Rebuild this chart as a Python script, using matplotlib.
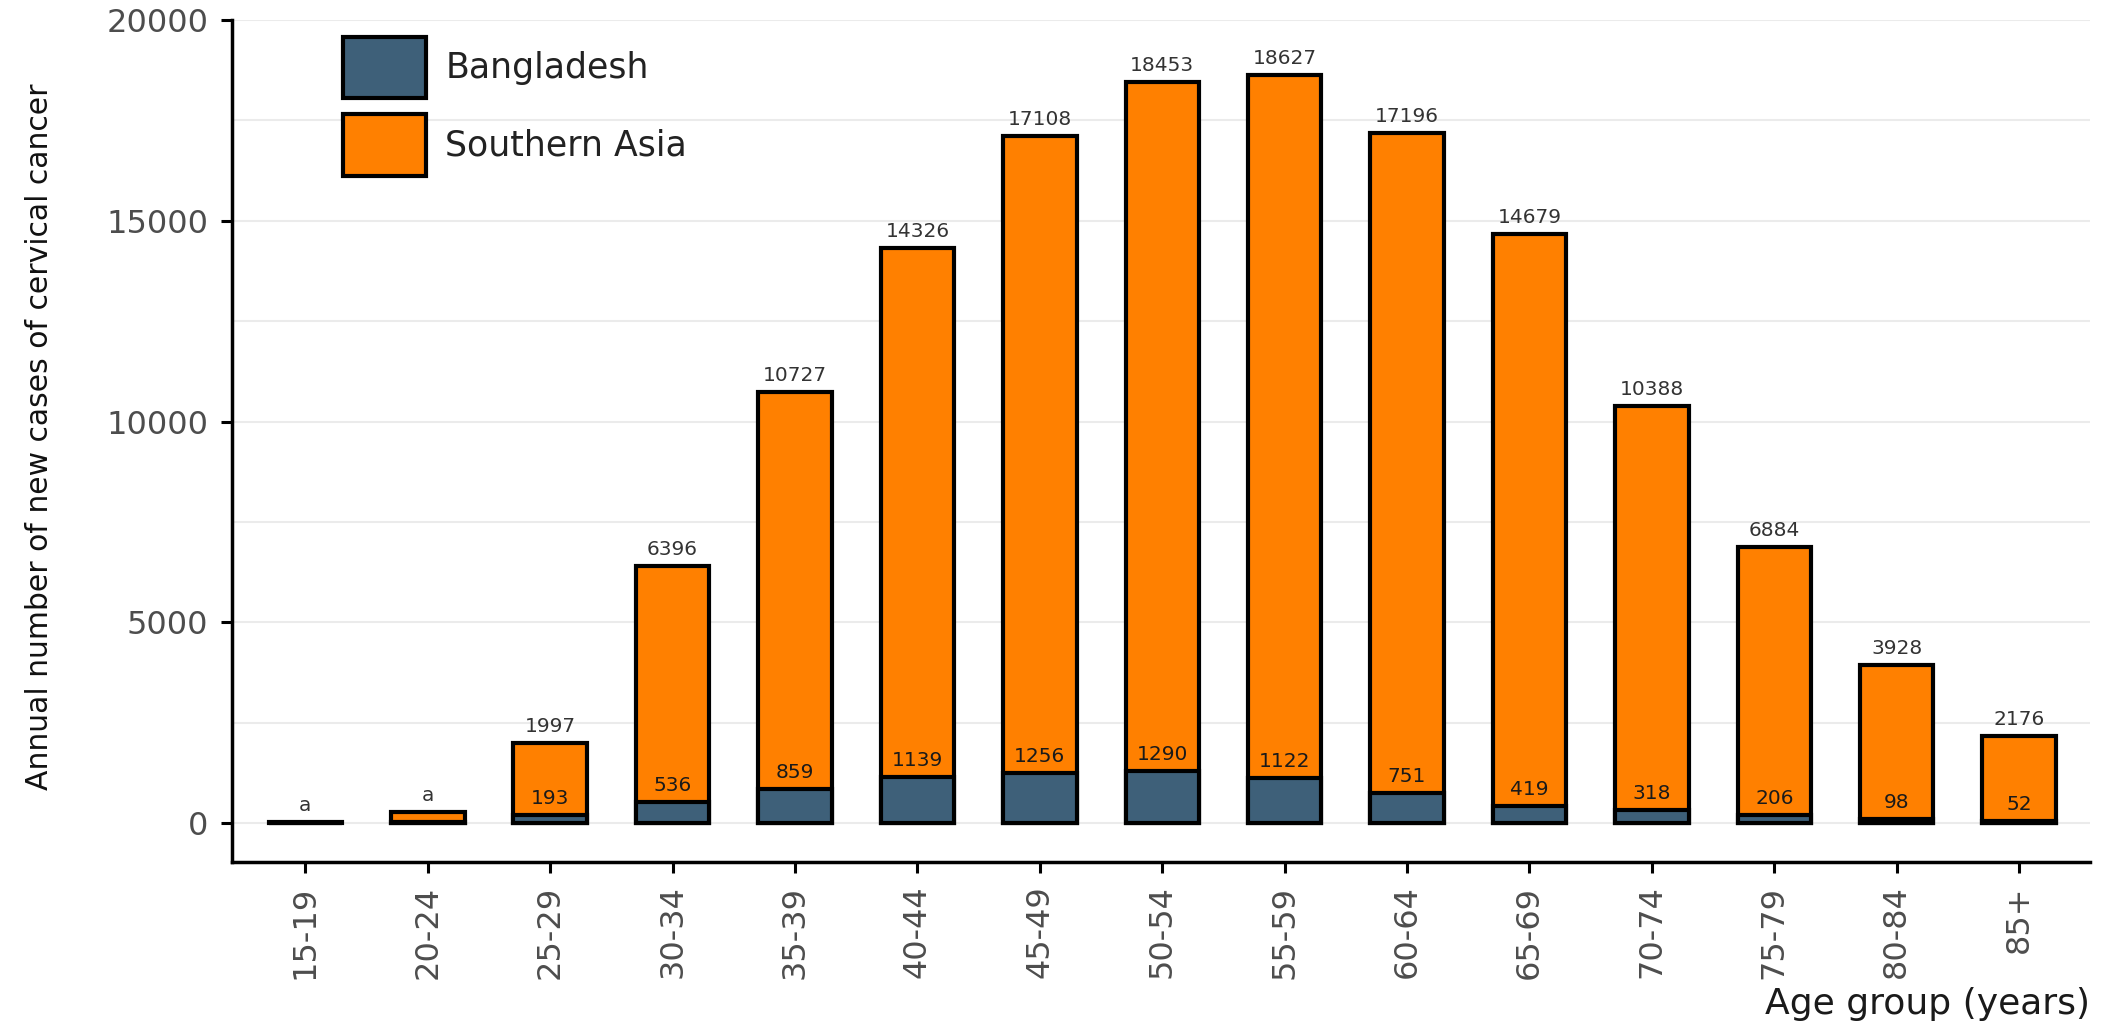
import matplotlib
matplotlib.use("Agg")
import matplotlib.pyplot as plt
import numpy as np

# annual new cervical cancer cases by age group
age_groups = ['15-19', '20-24', '25-29', '30-34', '35-39', '40-44', '45-49', '50-54',
              '55-59', '60-64', '65-69', '70-74', '75-79', '80-84', '85+']
southern_asia = [30, 270, 1997, 6396, 10727, 14326, 17108, 18453,
                 18627, 17196, 14679, 10388, 6884, 3928, 2176]
bangladesh = [5, 20, 193, 536, 859, 1139, 1256, 1290,
              1122, 751, 419, 318, 206, 98, 52]
# groups whose counts are not printed, marked "a" instead
suppressed = ['15-19', '20-24']

orange = '#ff8000'
slate = '#3e6079'
tick_grey = '#4d4d4d'

fig = plt.figure(figsize=(21.01, 10.23), dpi=100)
ax = fig.add_axes([0.1104, 0.1574, 0.8844, 0.823])

x = np.arange(len(age_groups))
ax.bar(x, southern_asia, width=0.6, color=orange, edgecolor='black',
       linewidth=3, zorder=2, label='Southern Asia')
ax.bar(x, bangladesh, width=0.6, color=slate, edgecolor='black',
       linewidth=3, zorder=3, label='Bangladesh')

for i, grp in enumerate(age_groups):
    if grp in suppressed:
        ax.annotate('a', (x[i], southern_asia[i]), xytext=(0, 5), textcoords='offset points',
                    ha='center', va='bottom', fontsize=14.5, color='#333333', zorder=4)
        continue
    ax.annotate(str(southern_asia[i]), (x[i], southern_asia[i]), xytext=(0, 5),
                textcoords='offset points', ha='center', va='bottom',
                fontsize=14.5, color='#333333', zorder=4)
    ax.annotate(str(bangladesh[i]), (x[i], bangladesh[i]), xytext=(0, 5),
                textcoords='offset points', ha='center', va='bottom',
                fontsize=14.5, color='#1a1a1a', zorder=4)

ax.set_xlim(-0.6, 14.58)
ax.set_ylim(-970, 20000)
ax.set_yticks([0, 5000, 10000, 15000, 20000])
ax.set_yticks([2500, 7500, 12500, 17500], minor=True)
ax.grid(axis='y', which='both', color='#ebebeb', linewidth=1.5, zorder=0)
ax.set_axisbelow(True)

ax.set_xticks(x)
ax.set_xticklabels(age_groups, rotation=90)
ax.tick_params(axis='both', which='major', length=8, width=2.2, pad=9,
               labelsize=23, labelcolor=tick_grey)
ax.tick_params(axis='y', labelsize=23)
ax.tick_params(axis='y', which='minor', length=0)

for side in ['top', 'right']:
    ax.spines[side].set_visible(False)
for side in ['left', 'bottom']:
    ax.spines[side].set_linewidth(2.5)
    ax.spines[side].set_color('black')

ax.set_ylabel('Annual number of new cases of cervical cancer',
              fontsize=21.5, color='#111111')
ax.yaxis.set_label_coords(-0.096, 0.505)
ax.set_xlabel('Age group (years)', fontsize=26, color='#1a1a1a', loc='right')
ax.xaxis.set_label_coords(1.0, -0.148)

handles, labels = ax.get_legend_handles_labels()
leg = ax.legend(handles[::-1], labels[::-1], loc='upper left',
                bbox_to_anchor=(0.0597, 0.98), frameon=False, fontsize=25,
                handlelength=2.4, handleheight=2.35, handletextpad=0.55,
                labelspacing=0.45, borderpad=0, borderaxespad=0)
for t in leg.get_texts():
    t.set_color('#222222')

fig.savefig('out.png', dpi=100)
